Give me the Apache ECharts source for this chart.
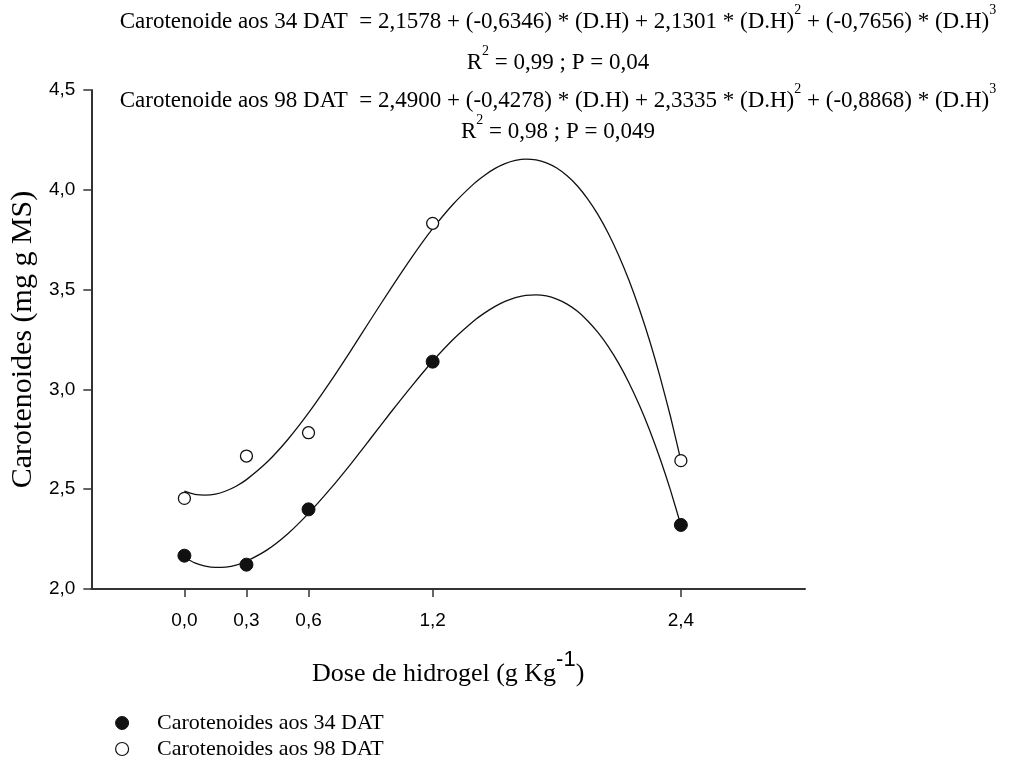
<!DOCTYPE html>
<html>
<head>
<meta charset="utf-8">
<script src="https://cdn.jsdelivr.net/npm/echarts@6/dist/echarts.min.js"></script>
<style>
  html, body { margin: 0; padding: 0; background: #fff; }
  #chart { width: 1014px; height: 764px; }
</style>
</head>
<body>
<div id="chart"></div>
<script>
// Observed doses (g Kg-1) and carotenoid contents
const doses = [0, 0.3, 0.6, 1.2, 2.4];
const car34 = [2.167, 2.122, 2.399, 3.139, 2.321];
const car98 = [2.454, 2.666, 2.783, 3.832, 2.643];

// Fitted cubic curves, sampled along the dose axis (denser where they bend most)
const fitDoses = [0, 0.05, 0.1, 0.15, 0.2, 0.25, 0.3,
                  0.4, 0.5, 0.6, 0.7, 0.8, 0.9, 1.0, 1.1, 1.2, 1.3, 1.4,
                  1.45, 1.5, 1.55, 1.6, 1.65, 1.7, 1.75, 1.8, 1.85, 1.9,
                  1.95, 2.0, 2.05, 2.1, 2.15, 2.2, 2.25, 2.3, 2.35, 2.4];
const fit34 = [2.158, 2.131, 2.115, 2.108, 2.110, 2.120, 2.139,
               2.196, 2.277, 2.379, 2.495, 2.621, 2.754, 2.888, 3.018, 3.141, 3.251, 3.344,
               3.382, 3.415, 3.441, 3.460, 3.471, 3.474, 3.468, 3.452, 3.427, 3.391,
               3.343, 3.284, 3.213, 3.129, 3.031, 2.919, 2.793, 2.651, 2.494, 2.320];
const fit98 = [2.490, 2.474, 2.470, 2.475, 2.491, 2.515, 2.548,
               2.636, 2.749, 2.882, 3.030, 3.187, 3.349, 3.509, 3.663, 3.805, 3.929, 4.031,
               4.072, 4.106, 4.131, 4.147, 4.154, 4.150, 4.135, 4.109, 4.070, 4.019,
               3.953, 3.874, 3.780, 3.670, 3.544, 3.400, 3.240, 3.060, 2.863, 2.644];

const xTickValues = [0, 0.3, 0.6, 1.2, 2.4];
const seriesNames = ['Carotenoides aos 34 DAT', 'Carotenoides aos 98 DAT'];

const equationLines = [
  '{t|Carotenoide aos 34 DAT  = 2,1578 + (-0,6346) * (D.H) + 2,1301 * (D.H)}{s|2}{t| + (-0,7656) * (D.H)}{s|3}',
  '{t|R}{s|2}{t| = 0,99 ; P = 0,04}',
  '{t|Carotenoide aos 98 DAT  = 2,4900 + (-0,4278) * (D.H) + 2,3335 * (D.H)}{s|2}{t| + (-0,8868) * (D.H)}{s|3}',
  '{t|R}{s|2}{t| = 0,98 ; P = 0,049}'
];
const equationY = [18, 59, 97, 128];

const pairs = (xs, ys) => xs.map((x, i) => [x, ys[i]]);
const comma = v => v.toFixed(1).replace('.', ',');

const serif = '"Liberation Serif", "Times New Roman", serif';
const sans = '"Liberation Sans", Arial, sans-serif';

const eqRich = {
  t: { fontFamily: serif, fontSize: 23, color: '#000', lineHeight: 30, verticalAlign: 'bottom' },
  s: { fontFamily: serif, fontSize: 14, color: '#000', lineHeight: 14, verticalAlign: 'top' }
};

const chart = echarts.init(document.getElementById('chart'), null, { renderer: 'canvas' });

chart.setOption({
  backgroundColor: '#fff',
  animation: false,
  grid: { left: 88, right: 209, top: 90, bottom: 175, containLabel: false },
  xAxis: {
    type: 'value',
    min: -0.45,
    max: 3.0,
    name: '{a|Dose de hidrogel (g Kg}{b|-1}{a|)}',
    nameLocation: 'middle',
    nameGap: 60,
    nameTextStyle: {
      rich: {
        a: { fontFamily: serif, fontSize: 26, color: '#000', lineHeight: 38, verticalAlign: 'bottom' },
        b: { fontFamily: sans, fontSize: 22, color: '#000', lineHeight: 22, verticalAlign: 'top' }
      }
    },
    axisLine: { onZero: false, lineStyle: { color: '#333', width: 2 } },
    axisTick: { customValues: xTickValues, length: 8, lineStyle: { color: '#333', width: 1.5 } },
    axisLabel: {
      customValues: xTickValues,
      formatter: comma,
      margin: 22,
      fontFamily: sans,
      fontSize: 19,
      color: '#000'
    },
    splitLine: { show: false }
  },
  yAxis: {
    type: 'value',
    min: 2.0,
    max: 4.5,
    interval: 0.5,
    name: 'Carotenoides (mg g MS)',
    nameLocation: 'middle',
    nameGap: 43,
    nameTextStyle: { fontFamily: serif, fontSize: 30, color: '#000' },
    axisLine: { show: true, onZero: false, lineStyle: { color: '#333', width: 2 } },
    axisTick: { show: true, length: 8, lineStyle: { color: '#333', width: 1.5 } },
    axisLabel: { formatter: comma, margin: 16, fontFamily: sans, fontSize: 19, color: '#000' },
    splitLine: { show: false }
  },
  legend: {
    orient: 'vertical',
    left: 115,
    top: 711,
    padding: 0,
    itemWidth: 60,
    itemHeight: 13,
    itemGap: 2,
    textStyle: { fontFamily: serif, fontSize: 22, lineHeight: 24, color: '#000' },
    data: [
      { name: seriesNames[0], icon: 'circle', itemStyle: { color: '#111', borderColor: '#111', borderWidth: 1 } },
      { name: seriesNames[1], icon: 'circle', itemStyle: { color: '#fff', borderColor: '#111', borderWidth: 1.2 } }
    ]
  },
  graphic: equationLines.map((txt, i) => ({
    type: 'text',
    x: 558,
    y: equationY[i],
    silent: true,
    style: { text: txt, rich: eqRich, align: 'center', verticalAlign: 'middle' }
  })),
  series: [
    {
      name: 'fit34',
      type: 'line',
      data: pairs(fitDoses, fit34),
      smooth: 0.2,
      showSymbol: false,
      lineStyle: { color: '#111', width: 1.3 },
      z: 2
    },
    {
      name: 'fit98',
      type: 'line',
      data: pairs(fitDoses, fit98),
      smooth: 0.2,
      showSymbol: false,
      lineStyle: { color: '#111', width: 1.3 },
      z: 2
    },
    {
      name: seriesNames[0],
      type: 'scatter',
      data: pairs(doses, car34),
      symbol: 'circle',
      symbolSize: 13,
      itemStyle: { color: '#111', borderColor: '#111', borderWidth: 1, opacity: 1 },
      z: 3
    },
    {
      name: seriesNames[1],
      type: 'scatter',
      data: pairs(doses, car98),
      symbol: 'circle',
      symbolSize: 12,
      itemStyle: { color: '#fff', borderColor: '#111', borderWidth: 1.3, opacity: 1 },
      z: 3
    }
  ]
});
</script>
</body>
</html>
